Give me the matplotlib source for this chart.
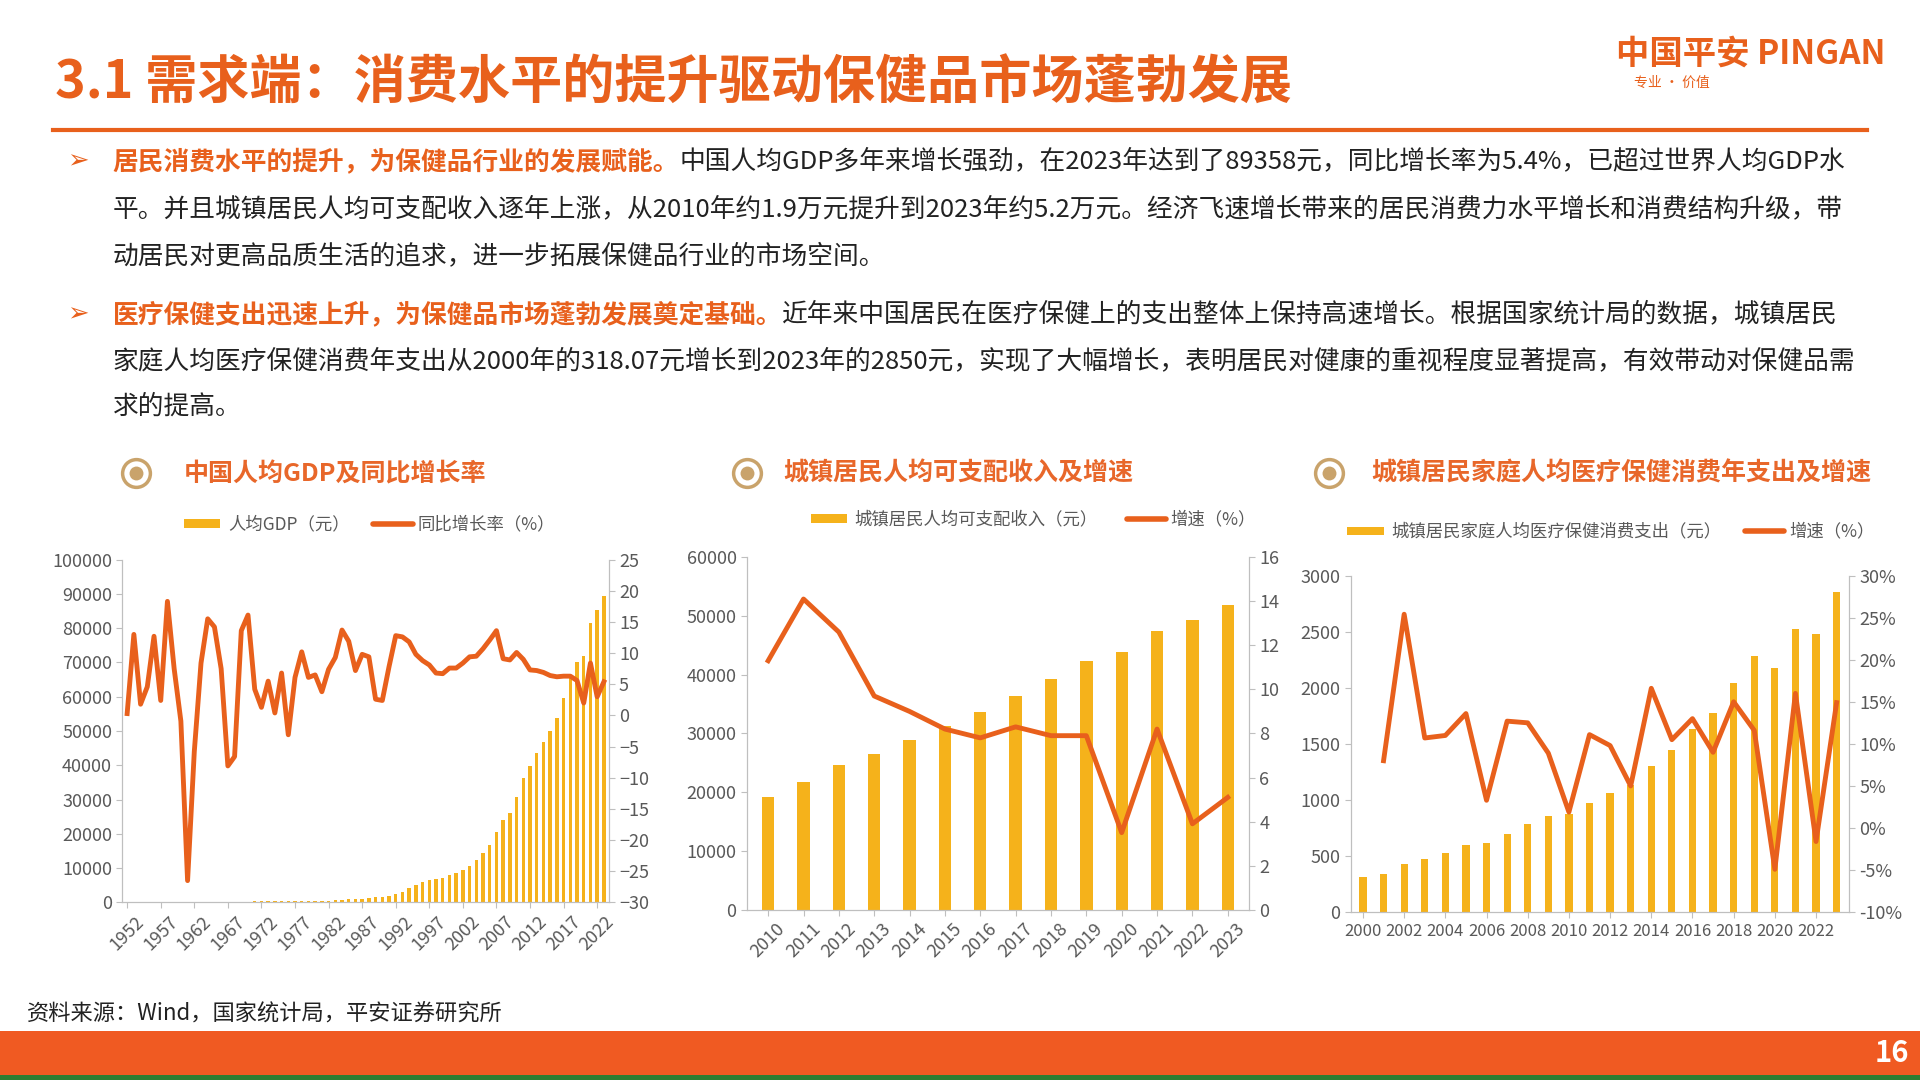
import numpy as np
import matplotlib.pyplot as plt
from matplotlib.patches import Rectangle

plt.rcParams['font.family'] = ['Noto Sans CJK SC', 'DejaVu Sans']

# chart 1: per-capita GDP and growth
gdp_years = list(range(1952, 2024))
gdp = [119, 142, 144, 150, 166, 168, 200, 216, 218, 185, 173, 181, 208, 240, 254, 235,
       222, 243, 276, 288, 292, 309, 310, 327, 316, 339, 385, 423, 468, 497, 533, 588,
       702, 866, 973, 1123, 1378, 1536, 1663, 1912, 2334, 3027, 4081, 5091, 5898, 6481,
       6860, 7229, 7942, 8717, 9506, 10666, 12487, 14368, 16738, 20494, 24100, 26180,
       30808, 36277, 39771, 43497, 46912, 49922, 53783, 59592, 65534, 70078, 71828,
       81370, 85310, 89358]
gdp_growth = [0.3, 13.0, 1.8, 4.6, 12.7, 2.4, 18.3, 7.5, -0.9, -26.5, -5.8, 8.4, 15.5,
              14.2, 7.5, -8.1, -6.6, 13.6, 16.1, 4.2, 1.3, 5.5, 0.4, 6.8, -3.1, 6.1, 10.2,
              6.1, 6.5, 3.8, 7.4, 9.3, 13.7, 11.9, 7.2, 9.8, 9.4, 2.6, 2.4, 7.8, 12.8,
              12.6, 11.8, 9.8, 8.8, 8.1, 6.8, 6.7, 7.6, 7.6, 8.4, 9.4, 9.5, 10.7, 12.1,
              13.6, 9.1, 8.9, 10.1, 9.0, 7.3, 7.2, 6.9, 6.4, 6.2, 6.3, 6.3, 5.6, 2.0,
              8.4, 3.0, 5.4]

# chart 2: urban disposable income
inc_years = list(range(2010, 2024))
income = [19109, 21810, 24565, 26467, 28844, 31195, 33616, 36396, 39251, 42359,
          43834, 47412, 49283, 51821]
inc_growth = [11.3, 14.1, 12.6, 9.7, 9.0, 8.2, 7.8, 8.3, 7.9, 7.9, 3.5, 8.2, 3.9, 5.1]

# chart 3: urban medical & health spending
med_years = list(range(2000, 2024))
medical = [318.07, 343, 430, 476, 528, 600, 620, 699, 786, 856, 872, 969, 1064, 1136,
           1306, 1443, 1631, 1777, 2046, 2283, 2172, 2521, 2481, 2850]
med_growth = [np.nan, 8.0, 25.4, 10.7, 11.0, 13.6, 3.3, 12.7, 12.5, 8.9, 1.9, 11.1, 9.8,
              5.0, 16.6, 10.5, 13.0, 9.0, 15.0, 11.6, -4.9, 16.0, -1.6, 14.9]

ORANGE = '#E8601C'
BAR = '#F5B21B'
TITLE = '#E8672A'
GRAY = '#595959'

# layout measured on a 1568 x 882 copy of the slide
W, H = 1568, 882
fig = plt.figure(figsize=(19.2, 10.8), dpi=100)


def fx(x):
    return x / W


def fy(y):
    return 1 - y / H


# header
fig.text(fx(45), fy(68), '3.1 需求端：消费水平的提升驱动保健品市场蓬勃发展', fontsize=37.5,
         color=ORANGE, fontweight='bold', va='center')
fig.text(fx(1430), fy(44), '中国平安 PINGAN', fontsize=24, color=ORANGE,
         fontweight='bold', va='center', ha='center')
fig.text(fx(1365), fy(68), '专业 · 价值', fontsize=10, color=ORANGE, va='center', ha='center')
fig.add_artist(plt.Line2D([fx(43), fx(1525)], [fy(106), fy(106)], color=ORANGE, lw=3))

# bullets
body = 18.5
lines1 = [(92, 132, '居民消费水平的提升，为保健品行业的发展赋能。', True,
           '中国人均GDP多年来增长强劲，在2023年达到了89358元，同比增长率为5.4%，已超过世界人均GDP水'),
          (92, 171, '', False, '平。并且城镇居民人均可支配收入逐年上涨，从2010年约1.9万元提升到2023年约5.2万元。经济飞速增长带来的居民消费力水平增长和消费结构升级，带'),
          (92, 209, '', False, '动居民对更高品质生活的追求，进一步拓展保健品行业的市场空间。'),
          (92, 257, '医疗保健支出迅速上升，为保健品市场蓬勃发展奠定基础。', True,
           '近年来中国居民在医疗保健上的支出整体上保持高速增长。根据国家统计局的数据，城镇居民'),
          (92, 295, '', False, '家庭人均医疗保健消费年支出从2000年的318.07元增长到2023年的2850元，实现了大幅增长，表明居民对健康的重视程度显著提高，有效带动对保健品需'),
          (92, 332, '', False, '求的提高。')]
fig.canvas.draw()
for x, y, bold, has_b, rest in lines1:
    if has_b:
        fig.text(fx(55), fy(y), '➢', fontsize=body, color=ORANGE, va='center', family='DejaVu Sans')
        t = fig.text(fx(x), fy(y), bold, fontsize=body, color=ORANGE, fontweight='bold', va='center')
        bb = t.get_window_extent(renderer=fig.canvas.get_renderer())
        fig.text(bb.x1 / fig.bbox.width, fy(y), rest, fontsize=body, color='#222222', va='center')
    else:
        fig.text(fx(x), fy(y), rest, fontsize=body, color='#222222', va='center')

# chart titles with round icons
for cx, tx, title in [(111, 150, '中国人均GDP及同比增长率'),
                      (610, 640, '城镇居民人均可支配收入及增速'),
                      (1085, 1120, '城镇居民家庭人均医疗保健消费年支出及增速')]:
    fig.add_artist(plt.Line2D([fx(cx)], [fy(386)], marker='o', ms=20, mfc='white',
                              mec='#C9A36B', mew=2.5))
    fig.add_artist(plt.Line2D([fx(cx)], [fy(386)], marker='o', ms=10, mfc='#C9A36B',
                              mec='none'))
    fig.text(fx(tx), fy(387), title, fontsize=18, color=TITLE, fontweight='bold', va='center')


def style(ax, ax2):
    for a in (ax, ax2):
        a.spines['top'].set_visible(False)
        for s in ('left', 'right', 'bottom'):
            a.spines[s].set_color('#BFBFBF')
        a.tick_params(colors=GRAY, labelsize=13, length=4)
        a.tick_params(axis='both', color='#BFBFBF')


def legend(x_bar, x_line, y, lbl_bar, lbl_line):
    fig.add_artist(Rectangle((fx(x_bar), fy(y + 3)), fx(30), 7 / H, transform=fig.transFigure,
                             fc=BAR, ec='none'))
    fig.text(fx(x_bar + 36), fy(y), lbl_bar, fontsize=12.5, color=GRAY, va='center')
    fig.add_artist(plt.Line2D([fx(x_line), fx(x_line + 32)], [fy(y), fy(y)], color=ORANGE,
                              lw=4, solid_capstyle='round'))
    fig.text(fx(x_line + 36), fy(y), lbl_line, fontsize=12.5, color=GRAY, va='center')


# chart 1
ax = fig.add_axes([fx(100), fy(737), fx(397), (737 - 457) / H])
ax2 = ax.twinx()
ax.bar(gdp_years, gdp, width=0.5, color=BAR)
ax2.plot(gdp_years, gdp_growth, color=ORANGE, lw=3.5)
ax.set_ylim(0, 100000)
ax.set_yticks(range(0, 100001, 10000))
ax2.set_ylim(-30, 25)
ax2.set_yticks(range(-30, 26, 5))
ax.set_xlim(1951.3, 2023.7)
ax.set_xticks(range(1952, 2024, 5))
ax.set_xticklabels(range(1952, 2024, 5), rotation=45)
style(ax, ax2)
legend(150, 305, 428, '人均GDP（元）', '同比增长率（%）')

# chart 2
ax = fig.add_axes([fx(610), fy(743), fx(410), (743 - 455) / H])
ax2 = ax.twinx()
ax.bar(inc_years, income, width=0.35, color=BAR)
ax2.plot(inc_years, inc_growth, color=ORANGE, lw=3.5)
ax.set_ylim(0, 60000)
ax.set_yticks(range(0, 60001, 10000))
ax2.set_ylim(0, 16)
ax2.set_yticks(range(0, 17, 2))
ax.set_xlim(2009.4, 2023.6)
ax.set_xticks(inc_years)
ax.set_xticklabels(inc_years, rotation=45)
style(ax, ax2)
legend(662, 920, 424, '城镇居民人均可支配收入（元）', '增速（%）')

# chart 3
ax = fig.add_axes([fx(1103), fy(745), fx(407), (745 - 470) / H])
ax2 = ax.twinx()
ax.bar(med_years, medical, width=0.35, color=BAR)
ax2.plot(med_years, med_growth, color=ORANGE, lw=3.5)
ax.set_ylim(0, 3000)
ax.set_yticks(range(0, 3001, 500))
ax2.set_ylim(-10, 30)
ax2.set_yticks(range(-10, 31, 5))
ax2.set_yticklabels([f'{v}%' for v in range(-10, 31, 5)])
ax.set_xlim(1999.4, 2023.6)
ax.set_xticks(range(2000, 2023, 2))
style(ax, ax2)
ax.tick_params(axis='x', labelsize=12)
legend(1100, 1425, 434, '城镇居民家庭人均医疗保健消费支出（元）', '增速（%）')

# footer
fig.text(fx(22), fy(828), '资料来源：Wind，国家统计局，平安证券研究所', fontsize=16, color='#222222',
         va='center')
fig.add_artist(Rectangle((0, 0), 1, (882 - 842) / H, transform=fig.transFigure,
                         fc='#F05A22', ec='none'))
fig.add_artist(Rectangle((0, 0), 1, 4 / H, transform=fig.transFigure,
                         fc='#2E7D32', ec='none'))
fig.text(fx(1545), fy(860), '16', fontsize=21, color='white', fontweight='bold',
         va='center', ha='center')

fig.savefig('out.png', dpi=100)
